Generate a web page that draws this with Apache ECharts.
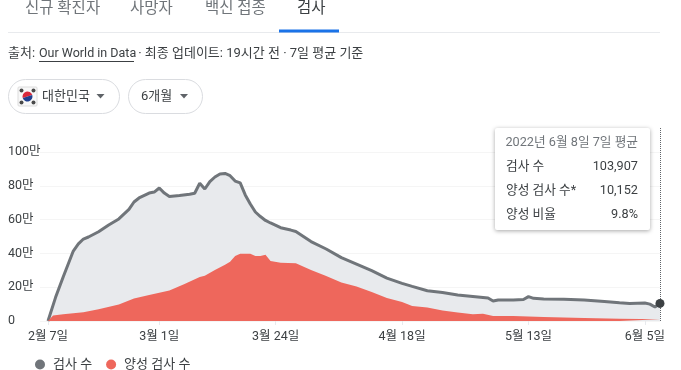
<!DOCTYPE html>
<html lang="ko">
<head>
<meta charset="utf-8">
<style>html,body{margin:0;padding:0;background:#fff;overflow:hidden}#c{width:681px;height:370px}</style>
<script src="https://cdn.jsdelivr.net/npm/echarts@6/dist/echarts.min.js"></script>
</head>
<body>
<div id="c"></div>
<script>
// Days counted from 2022-02-07; values in units of 만 (10,000)
const testDays = [0,1.5,3,5,6,7,8,10,12,14,16,17,18,20,21,22,23,24,26,28,29,30,31,32,33,34,35,36,37,38,39,40,41,42,43,44,46,48,49,52,55,58,61,64,67,70,72,75,78,81,84,87,88,89,92,94,95,96,98,102,106,110,113,115,118,119,120,121];
const testValues = [0,14,26,41.4,45.6,48.5,49.7,52.8,56.8,60.4,66,70.4,72.8,75.7,76.3,78.7,75.7,73.7,74.2,75,75.6,81.5,78.1,82.5,85.2,87,87.3,86,82.8,81.7,74.6,69.2,64.5,61.8,59.5,58,55.2,53.8,53,47,42.6,37.5,33.7,29.8,25.4,22.3,20.5,17.9,16.9,15.4,14.5,13.6,11.8,12.4,12.4,12.7,14.4,13.4,13,12.9,12.4,11.5,10.8,10.4,10.6,10,8.3,10.4];
const positiveDays = [0,1,3,7,10,14,17,20,24,27,30,31,33,35,36,37,38,40,41,42,43,44,46,49,52,55,58,61,64,67,70,72,75,78,81,84,86,88,92,98,106,113,121];
const positiveValues = [0,3.3,4,5.2,6.9,9.8,13.3,15.4,18,21.9,26,26.8,30.2,33.3,35.1,38.5,39.8,39.8,38.5,38.5,39.2,35.5,34.5,34.1,30.2,26.6,22.8,20.4,17.2,13.6,11.2,8.9,8,6.2,5,4,4.3,3,3,2.4,1.8,1.3,1];
const xTickDays = [0,22,45,70,95,118];
const xTickLabels = ['2월 7일','3월 1일','3월 24일','4월 18일','5월 13일','6월 5일'];
const yTickValues = [0,20,40,60,80,100];
const yTickLabels = ['0','20만','40만','60만','80만','100만'];
const tabs = ['신규 확진자','사망자','백신 접종','검사'];
const sourceParts = ['출처: ','Our World in Data',' · 최종 업데이트: 19시간 전 · 7일 평균 기준'];
const seriesNames = ['검사 수','양성 검사 수'];
const tipTitle = '2022년 6월 8일 7일 평균';
const tipRows = [['검사 수','103,907'],['양성 검사 수*','10,152'],['양성 비율','9.8%']];

const FONT = 'Roboto, "Liberation Sans", "Noto Sans CJK KR", sans-serif';
const zip = (a, b) => a.map((v, i) => [v, b[i]]);
const txt = (text, x, y, size, fill, align) => ({
  type: 'text', z: 20,
  style: { text, x, y, fill, font: size + 'px ' + FONT, textAlign: align || 'left', textVerticalAlign: 'middle' }
});
const lastDay = testDays[testDays.length - 1];
const lastTest = testValues[testValues.length - 1];

const tabX = [25, 130, 205, 297];
const g = [];
tabs.forEach((t, i) => g.push(txt(t, tabX[i], 9, 15.5, i === 3 ? '#3c4043' : '#70757a')));
g.push({ type: 'line', z: 20, shape: { x1: 8, y1: 32.5, x2: 660, y2: 32.5 }, style: { stroke: '#e8eaed', lineWidth: 1 } });
g.push({ type: 'rect', z: 21, shape: { x: 279, y: 29.5, width: 60, height: 3 }, style: { fill: '#1a73e8' } });
g.push(txt(sourceParts[0], 8, 54, 13, '#3c4043'));
g.push(txt(sourceParts[1], 39, 54, 12.5, '#3c4043'));
g.push({ type: 'line', z: 20, shape: { x1: 39, y1: 61.5, x2: 134, y2: 61.5 }, style: { stroke: '#3c4043', lineWidth: 1 } });
g.push(txt(sourceParts[2], 135, 54, 13, '#3c4043'));
// filter chips
[[8.5, 111], [128.5, 74]].forEach(([x, w]) => g.push({
  type: 'rect', z: 20, shape: { x, y: 79.5, width: w, height: 34, r: 17 }, style: { fill: '#fff', stroke: '#dadce0', lineWidth: 1 }
}));
// flag
g.push({ type: 'rect', z: 20, shape: { x: 18, y: 87, width: 19, height: 19, r: 1 }, style: { fill: '#f8f8f8', stroke: '#dcdcdc', lineWidth: 1 } });
g.push({ type: 'sector', z: 21, shape: { cx: 27.5, cy: 96.5, r: 5, r0: 0, startAngle: Math.PI * 0.9, endAngle: Math.PI * 1.9 }, style: { fill: '#d8283c' } });
g.push({ type: 'sector', z: 21, shape: { cx: 27.5, cy: 96.5, r: 5, r0: 0, startAngle: Math.PI * 1.9, endAngle: Math.PI * 2.9 }, style: { fill: '#1f3f8f' } });
[[21.5, 90.5], [33.5, 90.5], [21.5, 102.5], [33.5, 102.5]].forEach(([cx, cy]) => g.push({
  type: 'circle', z: 21, shape: { cx, cy, r: 2 }, style: { fill: '#4a4a4a' }
}));
g.push(txt('대한민국', 42, 96.5, 13, '#3c4043'));
g.push(txt('6개월', 141, 96.5, 13, '#3c4043'));
[96.5, 180].forEach(x => g.push({
  type: 'polygon', z: 20, shape: { points: [[x, 94], [x + 8, 94], [x + 4, 98.5]] }, style: { fill: '#5f6368' }
}));
// readout card
g.push({ type: 'rect', z: 30, shape: { x: 495, y: 128, width: 155, height: 102, r: 2 },
  style: { fill: '#fff', shadowBlur: 4, shadowColor: 'rgba(0,0,0,0.35)', shadowOffsetY: 1 } });
const card = (t, x, y, c, a) => { const e = txt(t, x, y, 12.7, c, a); e.z = 31; return e; };
g.push(card(tipTitle, 638, 143, '#70757a', 'right'));
tipRows.forEach((r, i) => {
  g.push(card(r[0], 506, 167 + i * 24, '#3c4043'));
  g.push(card(r[1], 638, 167 + i * 24, '#3c4043', 'right'));
});

const chart = echarts.init(document.getElementById('c'), null, { renderer: 'canvas' });
chart.setOption({
  animation: false,
  backgroundColor: '#fff',
  textStyle: { fontFamily: FONT },
  grid: { left: 48, right: 21, top: 128, bottom: 49 },
  legend: {
    left: 30, top: 353, itemWidth: 16, itemHeight: 10, itemGap: 14, icon: 'circle', padding: [5, 5, 5, 5],
    data: [{ name: seriesNames[0], itemStyle: { color: '#70757a' } }, { name: seriesNames[1], itemStyle: { color: '#ee675c' } }],
    textStyle: { fontSize: 13, color: '#3c4043', fontFamily: FONT }
  },
  xAxis: {
    type: 'value', min: 0, max: 121,
    axisLine: { show: false },
    splitLine: { show: false },
    axisTick: { show: true, length: 4, lineStyle: { color: '#e8eaed' }, customValues: xTickDays },
    axisLabel: {
      customValues: xTickDays, margin: 10, fontSize: 12.5, color: '#3c4043', showMinLabel: true, showMaxLabel: true, hideOverlap: false,
      formatter: v => xTickLabels[xTickDays.indexOf(v)]
    }
  },
  yAxis: {
    type: 'value', min: 0, max: 114.2,
    axisLine: { show: false },
    axisTick: { show: true, length: 8, lineStyle: { color: '#f5f5f5' }, customValues: yTickValues },
    splitLine: { show: true, lineStyle: { color: '#f5f5f5', width: 1 } },
    axisLabel: {
      customValues: yTickValues, margin: 40, align: 'left', fontSize: 12.5, color: '#3c4043',
      formatter: v => yTickLabels[yTickValues.indexOf(v)]
    }
  },
  graphic: { elements: g },
  series: [
    {
      name: seriesNames[0], type: 'line', z: 3, symbol: 'none', smooth: false, clip: false,
      data: zip(testDays, testValues),
      lineStyle: { color: '#70757a', width: 3 },
      itemStyle: { color: '#70757a' },
      areaStyle: { color: '#e8eaed', opacity: 1 },
      markPoint: {
        symbol: 'circle', symbolSize: 9, silent: true, label: { show: false },
        itemStyle: { color: '#3c4043' },
        data: [{ coord: [lastDay, lastTest] }]
      },
      markLine: {
        symbol: 'none', silent: true, label: { show: false },
        lineStyle: { color: '#5f6368', type: 'dotted', width: 1 },
        data: [[{ coord: [lastDay, 0] }, { coord: [lastDay, 114.2] }]]
      }
    },
    {
      name: seriesNames[1], type: 'line', z: 4, symbol: 'none', smooth: false,
      data: zip(positiveDays, positiveValues),
      lineStyle: { width: 0 },
      itemStyle: { color: '#ee675c' },
      areaStyle: { color: '#ee675c', opacity: 1 }
    }
  ]
});
</script>
</body>
</html>
